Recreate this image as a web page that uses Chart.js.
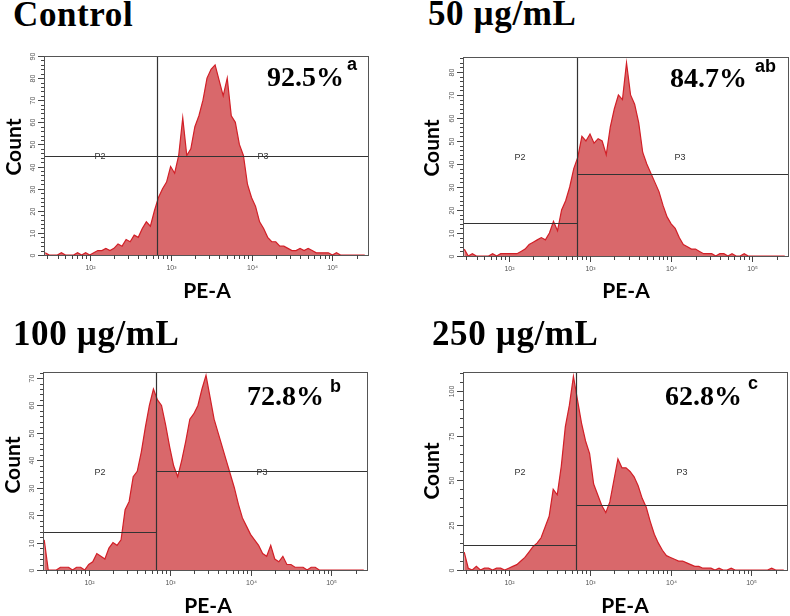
<!DOCTYPE html>
<html>
<head>
<meta charset="utf-8">
<script src="https://cdn.jsdelivr.net/npm/chart.js@4.4.0/dist/chart.umd.min.js"></script>
<style>
  html, body { margin: 0; padding: 0; background: #fff; }
  body { width: 790px; height: 616px; position: relative; overflow: hidden; }
  canvas { position: absolute; }
  .lbl { position: absolute; white-space: nowrap; line-height: normal; color: #000; }
  .title { font: bold 35px "Liberation Serif", "Times New Roman", serif; letter-spacing: 0.6px; }
  .pct { font: bold 28px "Liberation Serif", "Times New Roman", serif; }
  .sup { font: bold 18px "Liberation Sans", Arial, sans-serif; }
  .axt { font: bold 21px Lato, "Open Sans", sans-serif; }
  .gate { font: 9px "Liberation Sans", Arial, sans-serif; color: #333; }
</style>
</head>
<body>
<script>
// histogram bins on the PE-A log axis (log10 of bin centre)
const binLogStart = 1.45;
const binLogStep = 0.05;

// counts per bin
const controlCounts = [1,0,0,0,1,0,0,0,1,0,1,
  0,1,2,2,3,2,3,5,4,7,
  6,9,8,12,15,13,20,26,30,33,
  40,37,45,62,45,48,58,63,70,80,
  84,86,79,72,80,63,60,50,45,32,
  26,22,15,12,8,6,6,4,4,3,
  2,2,3,2,3,2,1,1,1,1,
  0,1,0,0,0,0,0,0,0];
const dose50Counts = [3,0,1,0,0,0,0,1,0,1,1,
  1,1,1,2,3,5,6,7,8,7,
  10,15,11,20,24,30,38,43,52,50,
  53,49,51,50,44,56,64,70,68,84,
  70,66,58,45,40,36,32,28,22,17,
  14,12,8,5,4,3,3,2,1,1,
  1,0,1,1,0,1,0,0,1,0,
  0,0,0,0,0,0,0,0,0];
const dose100Counts = [11,0,0,0,1,1,1,0,1,1,0,
  2,3,6,5,4,8,10,9,11,22,
  25,34,36,43,52,60,66,62,60,53,
  45,38,34,40,47,55,57,60,66,71,
  63,55,50,45,40,35,30,24,19,16,
  13,11,9,6,5,9,4,3,5,2,
  2,1,1,1,0,1,1,0,0,0,
  0,0,0,0,0,0,0,0,0];
const dose250Counts = [10,1,0,2,0,1,1,0,1,1,0,
  1,2,3,5,7,10,13,15,18,24,
  30,45,42,58,80,92,108,95,82,72,
  65,48,42,36,32,38,50,62,57,57,
  55,52,47,40,35,27,20,15,11,8,
  7,6,5,5,4,3,2,2,1,1,
  1,0,1,0,0,1,0,0,0,0,
  0,0,0,0,0,1,0,0,0];

const panelTitles = ['Control', '50 \u00b5g/mL', '100 \u00b5g/mL', '250 \u00b5g/mL'];
const percentLabels = ['92.5%', '84.7%', '72.8%', '62.8%'];
const letterLabels = ['a', 'ab', 'b', 'c'];
const yMaxes = [90, 86.5, 72.2, 110.5];
const yMajorSteps = [10, 10, 10, 25];
const yMinorSteps = [2, 2, 2, 5];
const xLogMin = 1.435, xLogMax = 5.44;
const gateLog = 2.835;          // P2 | P3 split
const gateP2Level = [45, 14.3, 13.9, 14.1];
const gateP3Level = [45, 35.7, 36.1, 36.1];

// page layout (pixels)
const boxes = [
  { left: 44, top: 56, w: 324, h: 199, title: [13, 26], pct: [267, 86], sup: [347, 70], count: [12, 147], pea: [207, 298], p2: [100, 156], p3: [263, 156] },
  { left: 463, top: 57, w: 325, h: 199, title: [428, 25], pct: [670, 87], sup: [755, 72], count: [430, 148], pea: [626, 298], p2: [520, 157], p3: [680, 157] },
  { left: 43, top: 372, w: 324, h: 198, title: [13, 345], pct: [247, 405], sup: [330, 392], count: [11, 465], pea: [208, 613], p2: [100, 472], p3: [262, 472] },
  { left: 463, top: 372, w: 324, h: 198, title: [432, 345], pct: [665, 405], sup: [748, 389], count: [430, 471], pea: [625, 613], p2: [520, 472], p3: [682, 472] }
];
const allCounts = [controlCounts, dose50Counts, dose100Counts, dose250Counts];
const pad = { left: 40, top: 6, right: 2, bottom: 30 };

function addText(txt, cls, x, base, center) {
  const el = document.createElement('div');
  el.className = 'lbl ' + cls;
  el.textContent = txt;
  const mark = document.createElement('span');
  mark.style.cssText = 'display:inline-block;width:0;height:0;vertical-align:baseline';
  el.appendChild(mark);
  document.body.appendChild(el);
  el.style.top = (base - mark.offsetTop) + 'px';
  el.style.left = x + 'px';
  if (center) el.style.transform = 'translateX(-50%)';
  return el;
}

function addCentered(txt, cls, cx, cy, rotate) {
  const el = document.createElement('div');
  el.className = 'lbl ' + cls;
  el.style.lineHeight = '1';
  el.textContent = txt;
  el.style.left = cx + 'px';
  el.style.top = cy + 'px';
  el.style.transform = 'translate(-50%,-50%)' + (rotate ? ' rotate(-90deg)' : '');
  document.body.appendChild(el);
}

// frame, gates and axis ticks drawn with the chart's own scales
const flowAxes = {
  id: 'flowAxes',
  afterDatasetsDraw(chart, args, opts) {
    const { ctx, chartArea: a, scales } = chart;
    const xs = scales.x, ys = scales.y;
    ctx.save();
    // gates
    ctx.strokeStyle = '#333';
    ctx.lineWidth = 1.2;
    const gx = Math.round(xs.getPixelForValue(Math.pow(10, gateLog))) + 0.5;
    const y2 = Math.round(ys.getPixelForValue(opts.p2)) + 0.5;
    const y3 = Math.round(ys.getPixelForValue(opts.p3)) + 0.5;
    ctx.beginPath();
    ctx.moveTo(gx, a.top); ctx.lineTo(gx, a.bottom);
    ctx.moveTo(a.left, y2); ctx.lineTo(gx, y2);
    ctx.moveTo(gx, y3); ctx.lineTo(a.right, y3);
    ctx.stroke();
    // frame
    ctx.strokeStyle = '#555';
    ctx.lineWidth = 1;
    ctx.strokeRect(Math.round(a.left) + 0.5, Math.round(a.top) + 0.5, Math.round(a.right - a.left), Math.round(a.bottom - a.top));
    // y ticks
    ctx.fillStyle = '#555';
    ctx.font = '7px "Liberation Sans", Arial, sans-serif';
    ctx.textAlign = 'center';
    ctx.textBaseline = 'middle';
    ctx.beginPath();
    for (let v = 0; v <= ys.max + 1e-6; v += opts.minor) {
      const y = Math.round(ys.getPixelForValue(v)) + 0.5;
      const major = Math.abs(v / opts.major - Math.round(v / opts.major)) < 1e-6;
      ctx.moveTo(a.left, y); ctx.lineTo(a.left - (major ? 6 : 3), y);
      if (major) {
        ctx.save();
        ctx.translate(a.left - 11, y);
        ctx.rotate(-Math.PI / 2);
        ctx.fillText(String(v), 0, 0);
        ctx.restore();
      }
    }
    // x ticks (log decades)
    const sups = { 2: '\u00b2', 3: '\u00b3', 4: '\u2074', 5: '\u2075' };
    for (let d = 1; d <= 5; d++) {
      for (let m = 1; m <= 9; m++) {
        const v = m * Math.pow(10, d);
        if (v < xs.min || v > xs.max) continue;
        const x = Math.round(xs.getPixelForValue(v)) + 0.5;
        ctx.moveTo(x, a.bottom); ctx.lineTo(x, a.bottom + (m === 1 ? 6 : 4));
        if (m === 1) ctx.fillText('10' + sups[d], x, a.bottom + 13);
      }
    }
    ctx.strokeStyle = '#444';
    ctx.stroke();
    ctx.restore();
  }
};

boxes.forEach((b, i) => {
  const cv = document.createElement('canvas');
  cv.width = b.w + pad.left + pad.right;
  cv.height = b.h + pad.top + pad.bottom;
  cv.style.left = (b.left - pad.left) + 'px';
  cv.style.top = (b.top - pad.top) + 'px';
  document.body.appendChild(cv);

  const points = allCounts[i].map((c, k) => ({ x: Math.pow(10, binLogStart + binLogStep * k), y: c }));

  new Chart(cv, {
    type: 'line',
    data: {
      datasets: [{
        data: points,
        borderColor: '#d21f27',
        backgroundColor: '#d9686b',
        borderWidth: 1.2,
        fill: 'origin',
        pointRadius: 0,
        tension: 0
      }]
    },
    options: {
      responsive: false,
      animation: false,
      layout: { padding: pad },
      plugins: {
        legend: { display: false },
        tooltip: { enabled: false },
        flowAxes: { p2: gateP2Level[i], p3: gateP3Level[i], major: yMajorSteps[i], minor: yMinorSteps[i] }
      },
      scales: {
        x: { type: 'logarithmic', min: Math.pow(10, xLogMin), max: Math.pow(10, xLogMax), display: false },
        y: { min: 0, max: yMaxes[i], display: false }
      }
    },
    plugins: [flowAxes]
  });

  addText(panelTitles[i], 'title', b.title[0], b.title[1]);
  addText(percentLabels[i], 'pct', b.pct[0], b.pct[1]);
  addText(letterLabels[i], 'sup', b.sup[0], b.sup[1]);
  addText('PE-A', 'axt', b.pea[0], b.pea[1], true);
  addCentered('Count', 'axt', b.count[0], b.count[1], true);
  addCentered('P2', 'gate', b.p2[0], b.p2[1]);
  addCentered('P3', 'gate', b.p3[0], b.p3[1]);
});
</script>
</body>
</html>
